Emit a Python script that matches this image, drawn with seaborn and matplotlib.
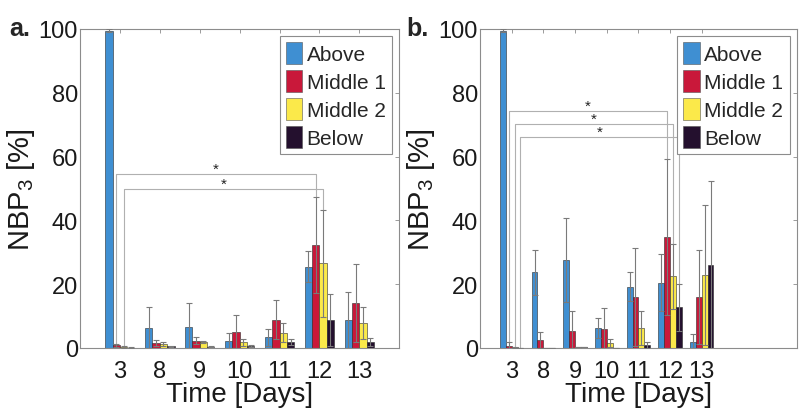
import matplotlib
matplotlib.use('Agg')
import matplotlib.pyplot as plt
import matplotlib.patches as mpatches
import seaborn as sns
import pandas as pd

# categories
days = ['3', '8', '9', '10', '11', '12', '13']
positions = ['Above', 'Middle 1', 'Middle 2', 'Below']
colors = ['#3f8fd2', '#c9183a', '#fbe94a', '#24102e']

# panel a: means and errors (NBP3 %)
above_a = [99.5, 6.2, 6.5, 2.2, 3.3, 25.5, 8.6]
mid1_a = [0.8, 1.5, 2.3, 4.9, 8.9, 32.3, 14.1]
mid2_a = [0.3, 1.3, 1.8, 1.7, 4.7, 26.5, 7.7]
below_a = [0.1, 0.5, 0.4, 0.6, 1.8, 8.8, 1.8]
above_a_err = [0.5, 6.5, 7.5, 2.4, 2.6, 4.8, 9.0]
mid1_a_err = [0.5, 1.0, 1.2, 5.4, 6.0, 15.0, 12.1]
mid2_a_err = [0.3, 0.7, 0.3, 1.0, 3.0, 16.8, 5.0]
below_a_err = [0.1, 0.2, 0.2, 0.3, 0.9, 8.1, 1.2]

# panel b
above_b = [99.5, 23.7, 27.5, 6.3, 19.2, 20.4, 1.8]
mid1_b = [0.7, 2.5, 5.4, 5.9, 15.9, 34.7, 15.9]
mid2_b = [0.2, 0.1, 0.3, 1.5, 6.3, 22.4, 22.9]
below_b = [0.1, 0.0, 0.2, 0.1, 1.0, 12.7, 26.1]
above_b_err = [0.5, 7.0, 13.1, 3.1, 4.6, 8.9, 2.6]
mid1_b_err = [1.1, 2.4, 6.2, 6.6, 15.4, 24.5, 14.8]
mid2_b_err = [0.1, 0.0, 0.1, 1.3, 5.3, 10.3, 21.9]
below_b_err = [0.0, 0.0, 0.0, 0.0, 1.0, 7.3, 26.3]

# significance brackets: (position, level) between day 3 and day 12
brackets_a = [('Middle 1', 54.5), ('Middle 2', 49.8)]
brackets_b = [('Middle 1', 74.4), ('Middle 2', 70.2), ('Below', 66.2)]
bracket_days = ('3', '12')

sns.set_style('white')
plt.rcParams['font.family'] = ['Liberation Sans', 'DejaVu Sans']
plt.rcParams['mathtext.default'] = 'regular'

GRAY = '#8c8c8c'


def make_frame(series, errs):
    rows = []
    for pos, vals, ers in zip(positions, series, errs):
        for d, v, e in zip(days, vals, ers):
            rows.append({'day': d, 'position': pos, 'value': v, 'err': e})
    return pd.DataFrame(rows)


def draw_panel(ax, df, brackets, xmax):
    sns.barplot(data=df, x='day', y='value', hue='position', order=days,
                hue_order=positions, palette=colors, saturation=1,
                width=0.74, gap=0, errorbar=None, edgecolor='#2a2a2a',
                linewidth=0.4, legend=False, ax=ax)
    # error bars at bar centres
    centers = {}
    for pos, cont in zip(positions, ax.containers):
        sub = df[df['position'] == pos].set_index('day').loc[days]
        xs = [p.get_x() + p.get_width() / 2 for p in cont]
        for d, x in zip(days, xs):
            centers[(pos, d)] = x
        ax.errorbar(xs, sub['value'], yerr=sub['err'], fmt='none',
                    ecolor='#7a7a7a', elinewidth=0.8, capsize=2,
                    capthick=0.8, zorder=3)
    # brackets
    d0, d1 = bracket_days
    for pos, level in brackets:
        x0, x1 = centers[(pos, d0)], centers[(pos, d1)]
        row = df[df['position'] == pos].set_index('day')
        y0 = row.loc[d0, 'value'] + row.loc[d0, 'err']
        y1 = row.loc[d1, 'value'] + row.loc[d1, 'err']
        ax.plot([x0, x0, x1, x1], [y0, level, level, y1], color='#b0b0b0',
                lw=0.8, zorder=2)
        ax.text((x0 + x1) / 2, level - 0.6, '*', ha='center', va='bottom',
                fontsize=11, color='#222222')

    ax.set_xlim(-1, xmax)
    ax.set_ylim(0, 100)
    ax.set_yticks(range(0, 101, 20))
    ax.tick_params(axis='both', direction='in', top=True, right=True,
                   length=3, width=0.6, color=GRAY, labelsize=17,
                   labelcolor='#1a1a1a')
    ax.tick_params(axis='x', pad=9)
    ax.tick_params(axis='y', pad=1.5)
    for s in ax.spines.values():
        s.set_color(GRAY)
        s.set_linewidth(0.8)
    ax.set_xlabel('Time [Days]', fontsize=20, labelpad=-1, color='#1a1a1a')
    ax.set_ylabel('NBP$_3$ [%]', fontsize=21, labelpad=1, color='#1a1a1a')

    handles = [mpatches.Patch(facecolor=c, edgecolor='#555555', lw=0.4,
                              label=p) for c, p in zip(colors, positions)]
    leg = ax.legend(handles=handles, loc='upper right', fontsize=15,
                    frameon=True, fancybox=False, framealpha=1,
                    edgecolor=GRAY, handlelength=0.8, handleheight=1.2,
                    handletextpad=0.2, labelspacing=0.3, borderpad=0.3,
                    borderaxespad=0.35)
    leg.get_frame().set_linewidth(0.8)
    leg.set_zorder(5)


fig = plt.figure(figsize=(8, 4.1), dpi=100)
ax_a = fig.add_axes([0.1, 0.149, 0.399, 0.778])
ax_b = fig.add_axes([0.6, 0.149, 0.396, 0.778])

df_a = make_frame([above_a, mid1_a, mid2_a, below_a],
                  [above_a_err, mid1_a_err, mid2_a_err, below_a_err])
df_b = make_frame([above_b, mid1_b, mid2_b, below_b],
                  [above_b_err, mid1_b_err, mid2_b_err, below_b_err])

draw_panel(ax_a, df_a, brackets_a, 7)
draw_panel(ax_b, df_b, brackets_b, 9)

fig.text(0.012, 1 - 29 / 410, 'a.', fontsize=18, fontweight='bold', va='center')
fig.text(0.508, 1 - 29 / 410, 'b.', fontsize=18, fontweight='bold', va='center')

fig.savefig('out.png', dpi=100)
plt.close(fig)
